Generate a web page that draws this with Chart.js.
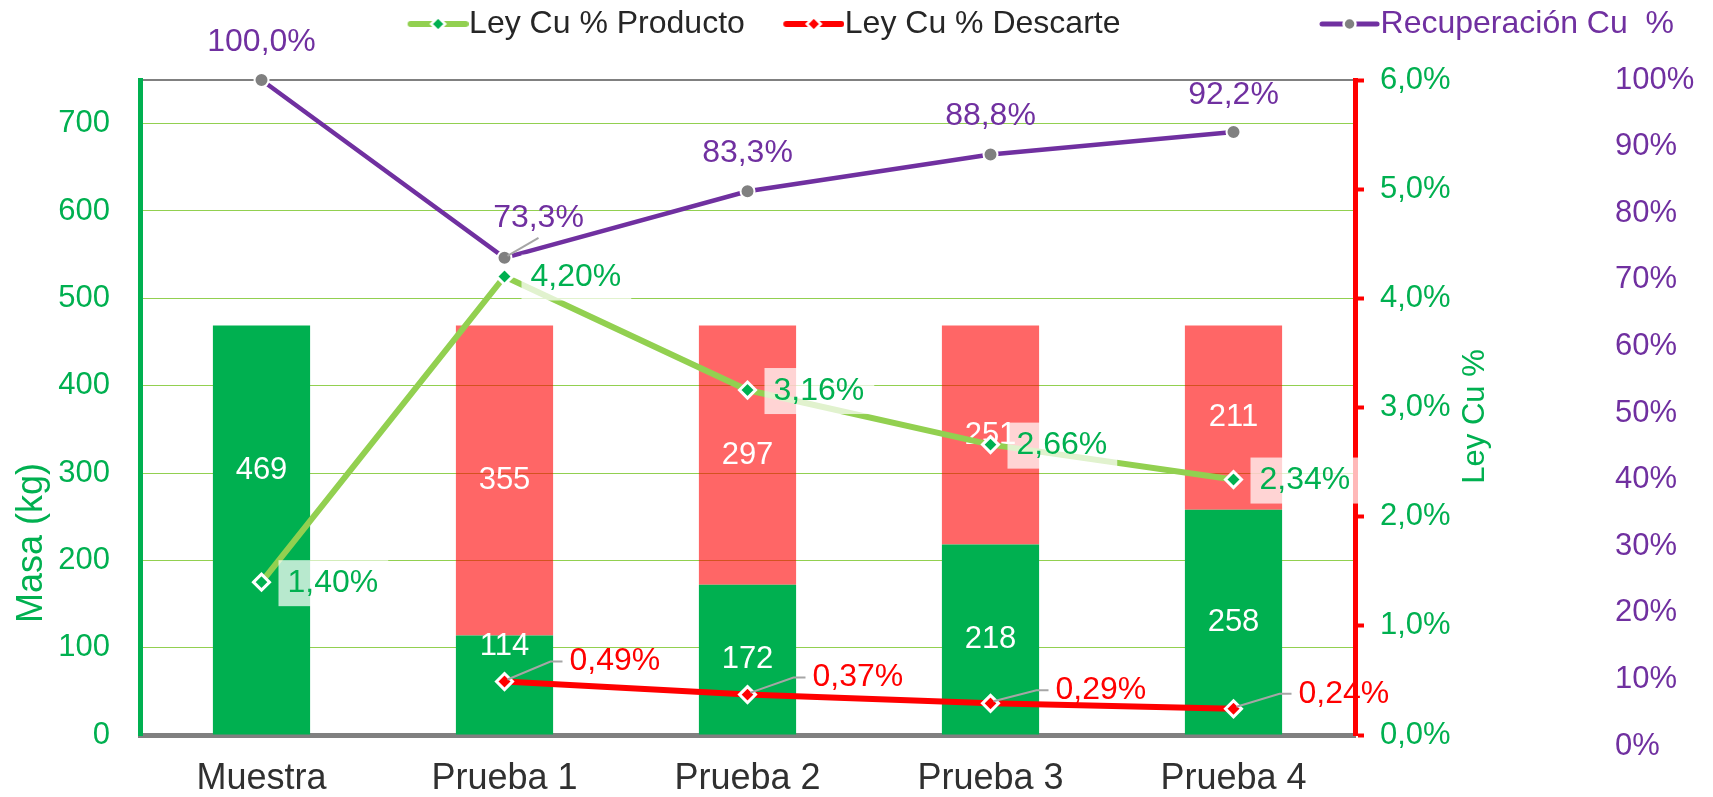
<!DOCTYPE html>
<html>
<head>
<meta charset="utf-8">
<script src="https://cdn.jsdelivr.net/npm/chart.js@4.4.1/dist/chart.umd.min.js"></script>
<style>
html,body{margin:0;padding:0;background:#ffffff;}
#wrap{width:1713px;height:797px;position:relative;}
canvas{display:block;}
</style>
</head>
<body>
<div id="wrap"><canvas id="c" width="1713" height="797"></canvas></div>
<script>
// ---- data ----
const categories   = ['Muestra', 'Prueba 1', 'Prueba 2', 'Prueba 3', 'Prueba 4'];
const masaProducto = [469, 114, 172, 218, 258];
const masaDescarte = [null, 355, 297, 251, 211];
const leyProducto  = [1.40, 4.20, 3.16, 2.66, 2.34];
const leyDescarte  = [null, 0.49, 0.37, 0.29, 0.24];
const recuperacion = [100.0, 73.3, 83.3, 88.8, 92.2];
const masaTicks = [0, 100, 200, 300, 400, 500, 600, 700];
const leyTicks  = [0, 1, 2, 3, 4, 5, 6];
const recTicks  = [0, 10, 20, 30, 40, 50, 60, 70, 80, 90, 100];
const seriesNames = ['Ley Cu % Producto', 'Ley Cu % Descarte', 'Recuperación Cu  %'];
const axisTitleMasa = 'Masa (kg)';
const axisTitleLey  = 'Ley Cu %';

// ---- styles ----
const FONT = "'Liberation Sans', Arial, sans-serif";
const GREEN = '#00B050', LGREEN = '#92D050', RED = '#FF0000', PURPLE = '#7030A0', GRAY = '#808080';
const fmt = (v, d) => v.toFixed(d).replace('.', ',');
const noPad = s => { s.paddingTop = 0; s.paddingBottom = 0; s.paddingLeft = 0; s.paddingRight = 0; };

function legendSample(lineColor, lineW, marker) {
  const c = document.createElement('canvas');
  c.width = 76; c.height = 22;
  const g = c.getContext('2d');
  g.strokeStyle = lineColor; g.lineWidth = lineW; g.lineCap = 'round';
  g.beginPath(); g.moveTo(18, 11); g.lineTo(73, 11); g.stroke();
  const cx = 45.5, cy = 11;
  g.lineWidth = 2.5; g.strokeStyle = '#ffffff';
  g.beginPath();
  if (marker.shape === 'diamond') {
    g.moveTo(cx, cy - 7); g.lineTo(cx + 7, cy); g.lineTo(cx, cy + 7); g.lineTo(cx - 7, cy); g.closePath();
  } else {
    g.arc(cx, cy, 6, 0, Math.PI * 2);
  }
  g.fillStyle = marker.color; g.fill(); g.stroke();
  return c;
}
const samples = [
  legendSample(LGREEN, 6, {shape: 'diamond', color: GREEN}),
  legendSample(RED, 6, {shape: 'diamond', color: RED}),
  legendSample(PURPLE, 5, {shape: 'circle', color: GRAY})
];
const legendTextColors = ['#262626', '#262626', PURPLE];
const legendPadText = ['', '                  ', ''];

const valueLabels = {
  id: 'valueLabels',
  afterDatasetDraw(chart, args, opts) {
    const ds = chart.data.datasets[args.index];
    if (ds.type !== 'bar') return;
    const ctx = chart.ctx;
    const dyArr = (opts.barDy && opts.barDy[args.index]) || [];
    ctx.save();
    ctx.font = '31px ' + FONT;
    ctx.fillStyle = '#ffffff';
    ctx.textAlign = 'center';
    ctx.textBaseline = 'middle';
    args.meta.data.forEach((el, i) => {
      const v = ds.data[i];
      if (v == null) return;
      const p = el.getProps(['x', 'y', 'base'], true);
      ctx.fillText(String(v), p.x, (p.y + p.base) / 2 + (dyArr[i] || 0));
    });
    ctx.restore();
  },
  afterDatasetsDraw(chart, args, opts) {
    const ctx = chart.ctx;
    ctx.save();
    ctx.font = '32px ' + FONT;
    ctx.textBaseline = 'middle';
    // Ley Producto
    chart.getDatasetMeta(0).data.forEach((pt, i) => {
      const v = chart.data.datasets[0].data[i];
      if (v == null) return;
      const t = fmt(v, 2) + '%';
      const w = ctx.measureText(t).width;
      const tx = pt.x + 26, ty = pt.y + 1;
      ctx.fillStyle = 'rgba(255,255,255,0.72)';
      ctx.fillRect(tx - 9, ty - 23, w + 19, 46);
      ctx.fillStyle = GREEN;
      ctx.textAlign = 'left';
      ctx.fillText(t, tx, ty);
    });
    // Ley Descarte
    chart.getDatasetMeta(1).data.forEach((pt, i) => {
      const v = chart.data.datasets[1].data[i];
      if (v == null) return;
      const t = fmt(v, 2) + '%';
      const tx = pt.x + 65, ty = pt.y + (opts.descDy[i] || -16);
      ctx.strokeStyle = '#A6A6A6'; ctx.lineWidth = 2;
      ctx.beginPath(); ctx.moveTo(pt.x + 3, pt.y - 2); ctx.lineTo(tx - 19, ty); ctx.lineTo(tx - 7, ty); ctx.stroke();
      ctx.fillStyle = RED; ctx.textAlign = 'left';
      ctx.fillText(t, tx, ty);
    });
    // Recuperacion
    chart.getDatasetMeta(2).data.forEach((pt, i) => {
      const v = chart.data.datasets[2].data[i];
      if (v == null) return;
      const t = fmt(v, 1) + '%';
      const tx = pt.x + opts.recDx[i], ty = pt.y + opts.recDy[i];
      if (opts.recLeader[i]) {
        ctx.strokeStyle = '#A6A6A6'; ctx.lineWidth = 2;
        ctx.beginPath(); ctx.moveTo(pt.x + 3, pt.y - 2); ctx.lineTo(tx, ty + 20); ctx.stroke();
      }
      ctx.fillStyle = PURPLE; ctx.textAlign = 'center';
      ctx.fillText(t, tx, ty);
    });
    ctx.restore();
  },
  afterDraw(chart) {
    const ctx = chart.ctx, a = chart.chartArea;
    ctx.save();
    ctx.fillStyle = GREEN; ctx.textAlign = 'center'; ctx.textBaseline = 'middle';
    ctx.font = '36px ' + FONT;
    ctx.translate(chart.scales.y.left + 32, a.bottom - 192);
    ctx.rotate(-Math.PI / 2);
    ctx.fillText(axisTitleMasa, 0, 0);
    ctx.restore();
    ctx.save();
    ctx.fillStyle = GREEN; ctx.textAlign = 'center'; ctx.textBaseline = 'middle';
    ctx.font = '31px ' + FONT;
    ctx.translate(chart.scales.y1.left + 120, (a.top + a.bottom) / 2 + 9);
    ctx.rotate(-Math.PI / 2);
    ctx.fillText(axisTitleLey, 0, 0);
    ctx.restore();
  }
};

const chart = new Chart(document.getElementById('c'), {
  data: {
    labels: categories,
    datasets: [
      {type: 'line', label: seriesNames[0], data: leyProducto, yAxisID: 'y1', xAxisID: 'x',
       borderColor: LGREEN, borderWidth: 6, pointStyle: 'rectRot', pointRadius: 8,
       pointBackgroundColor: GREEN, pointBorderColor: '#ffffff', pointBorderWidth: 3,
       order: 2, clip: false, tension: 0},
      {type: 'line', label: seriesNames[1], data: leyDescarte, yAxisID: 'y1', xAxisID: 'x',
       borderColor: RED, borderWidth: 6, pointStyle: 'rectRot', pointRadius: 8,
       pointBackgroundColor: RED, pointBorderColor: '#ffffff', pointBorderWidth: 3,
       order: 3, clip: false, tension: 0},
      {type: 'line', label: seriesNames[2], data: recuperacion, yAxisID: 'y2', xAxisID: 'x',
       borderColor: PURPLE, borderWidth: 4.5, pointStyle: 'circle', pointRadius: 7,
       pointBackgroundColor: GRAY, pointBorderColor: '#ffffff', pointBorderWidth: 2,
       order: 1, clip: false, tension: 0},
      {type: 'bar', label: 'Masa Producto', data: masaProducto, yAxisID: 'y', xAxisID: 'x',
       backgroundColor: GREEN, barPercentage: 0.4, categoryPercentage: 1.0, order: 10},
      {type: 'bar', label: 'Masa Descarte', data: masaDescarte, yAxisID: 'y', xAxisID: 'x',
       backgroundColor: 'rgba(255,0,0,0.6)', barPercentage: 0.4, categoryPercentage: 1.0, order: 11}
    ]
  },
  options: {
    responsive: false,
    animation: false,
    devicePixelRatio: 1,
    layout: {padding: {top: -31, left: 0, right: 0, bottom: 0}},
    plugins: {
      tooltip: {enabled: false},
      legend: {
        position: 'top',
        align: 'end',
        labels: {
          usePointStyle: true,
          pointStyleWidth: 45,
          padding: 39,
          font: {size: 32, family: FONT},
          generateLabels: (chart) => [0, 1, 2].map(i => ({
            text: seriesNames[i] + legendPadText[i],
            fontColor: legendTextColors[i],
            pointStyle: samples[i],
            fillStyle: 'rgba(0,0,0,0)',
            strokeStyle: 'rgba(0,0,0,0)',
            lineWidth: 0,
            hidden: false,
            datasetIndex: i
          }))
        }
      },
      valueLabels: {
        barDy: {3: [-60, -39, 0, 0, 0], 4: [0, 0, 0, 0, 0]},
        descDy: [0, -20, -17, -13, -15],
        recDx: [0, 34, 0, 0, 0],
        recDy: [-38, -40, -38, -38, -37],
        recLeader: [false, true, false, false, false]
      }
    },
    scales: {
      x: {
        type: 'category', position: 'bottom', stacked: true, offset: true,
        grid: {display: false, drawTicks: false},
        border: {display: true, color: GRAY, width: 5},
        ticks: {color: '#303030', font: {size: 36, family: FONT}, padding: 22, maxRotation: 0, autoSkip: false},
        afterFit: s => { s.height = 62; noPad(s); }
      },
      x2: {
        type: 'category', position: 'top', display: true,
        grid: {display: false, drawTicks: false},
        border: {display: true, color: GRAY, width: 2},
        ticks: {display: false},
        afterFit: s => { s.height = 30; noPad(s); }
      },
      y: {
        type: 'linear', position: 'left', stacked: true, min: 0, max: 750,
        afterBuildTicks: s => { s.ticks = masaTicks.map(v => ({value: v})); },
        grid: {color: c => (c.tick && c.tick.value === 0) ? 'rgba(0,0,0,0)' : LGREEN, lineWidth: 1, drawTicks: false},
        border: {display: true, color: GREEN, width: 5},
        ticks: {color: GREEN, font: {size: 31, family: FONT}, padding: 30, autoSkip: false},
        afterFit: s => { s.width = 140; noPad(s); }
      },
      y1: {
        type: 'linear', position: 'right', min: 0, max: 6, weight: 1,
        afterBuildTicks: s => { s.ticks = leyTicks.map(v => ({value: v})); },
        grid: {drawOnChartArea: false, drawTicks: true, tickLength: 9, tickColor: RED, tickWidth: 4, color: RED},
        border: {display: true, color: RED, width: 5},
        ticks: {color: GREEN, font: {size: 31, family: FONT}, padding: 16, autoSkip: false,
                callback: v => fmt(v, 1) + '%'},
        afterFit: s => { s.width = 145; noPad(s); }
      },
      y2: {
        type: 'linear', position: 'right', min: 1.65, max: 100, weight: 2,
        afterBuildTicks: s => { s.ticks = recTicks.map(v => ({value: v})); },
        grid: {display: false, drawTicks: false},
        border: {display: false},
        ticks: {color: PURPLE, font: {size: 31, family: FONT}, padding: 115, autoSkip: false,
                callback: v => v + '%'},
        afterFit: s => { s.width = 213; noPad(s); }
      }
    }
  },
  plugins: [valueLabels]
});
</script>
</body>
</html>
